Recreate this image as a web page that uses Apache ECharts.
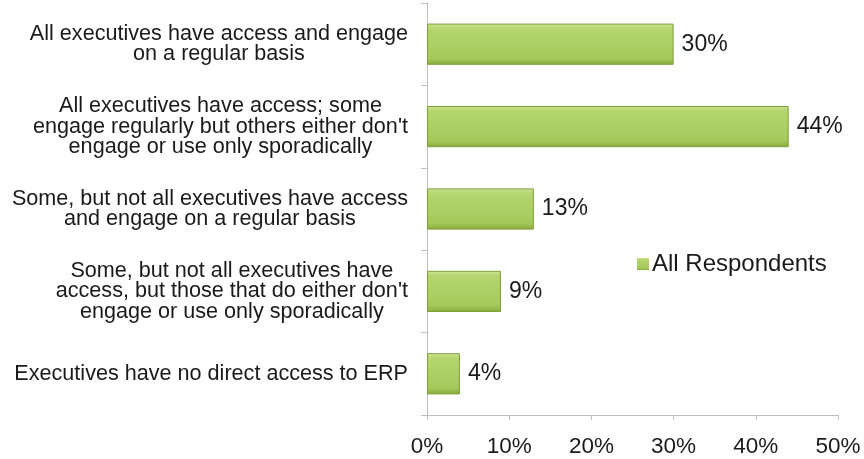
<!DOCTYPE html>
<html>
<head>
<meta charset="utf-8">
<script src="https://cdn.jsdelivr.net/npm/echarts@6/dist/echarts.min.js"></script>
<style>html,body{margin:0;padding:0;background:#fff;}#c{width:864px;height:459px;}</style>
</head>
<body>
<div id="c"></div>
<script>
const categories = [
  "All executives have access and engage\non a regular basis",
  "All executives have access; some\nengage regularly but others either don't\nengage or use only sporadically",
  "Some, but not all executives have access\nand engage on a regular basis",
  "Some, but not all executives have\naccess, but those that do either don't\nengage or use only sporadically",
  "Executives have no direct access to ERP"
];
const seriesName = "All Respondents";
const values = [30, 44, 13, 9, 4];
const xTicks = [0, 10, 20, 30, 40, 50];

const chart = echarts.init(document.getElementById('c'), null, {renderer: 'canvas'});
const font = '"Liberation Sans", Arial, Helvetica, sans-serif';
const barGrad = new echarts.graphic.LinearGradient(0, 0, 0, 1, [
  {offset: 0, color: '#cfe596'},
  {offset: 0.12, color: '#b6d66f'},
  {offset: 0.85, color: '#a5c85a'},
  {offset: 1, color: '#88aa3c'}
]);
chart.setOption({
  animation: false,
  backgroundColor: '#fff',
  grid: {left: 427, right: 26, top: 3, bottom: 44, containLabel: false},
  legend: {
    data: [{name: seriesName, icon: 'rect', itemStyle: {borderWidth: 0}}],
    left: 632, top: 247,
    itemWidth: 12, itemHeight: 12, itemGap: 6,
    textStyle: {fontFamily: font, fontSize: 24, color: '#1a1a1a', padding: [0,0,0,-2]}
  },
  xAxis: {
    type: 'value', min: xTicks[0], max: xTicks[xTicks.length - 1], interval: 10,
    axisLine: {show: true, lineStyle: {color: '#bfbfbf', width: 1}},
    axisTick: {show: true, length: 5, lineStyle: {color: '#bfbfbf'}},
    splitLine: {show: false},
    axisLabel: {formatter: v => v + '%', fontFamily: font, fontSize: 22.5, color: '#1a1a1a', margin: 20}
  },
  yAxis: {
    type: 'category', data: categories, inverse: true,
    axisLine: {show: true, lineStyle: {color: '#bfbfbf', width: 1}},
    axisTick: {show: true, length: 6, lineStyle: {color: '#bfbfbf'}},
    axisLabel: {
      margin: 19, align: 'right',
      formatter: v => v.split('\n').map(l => '{c|' + l + '}').join('\n'),
      rich: {c: {align: 'center', fontFamily: font, fontSize: 21.6, lineHeight: 20.5, color: '#1a1a1a'}}
    }
  },
  series: [{
    name: seriesName, type: 'bar', data: values, barWidth: '50%',
    itemStyle: {color: barGrad, borderColor: '#7f9e3b', borderWidth: 1},
    label: {show: true, position: 'right', distance: 8, formatter: p => p.value + '%',
      fontFamily: font, fontSize: 23, color: '#1a1a1a'}
  }]
});
</script>
</body>
</html>
